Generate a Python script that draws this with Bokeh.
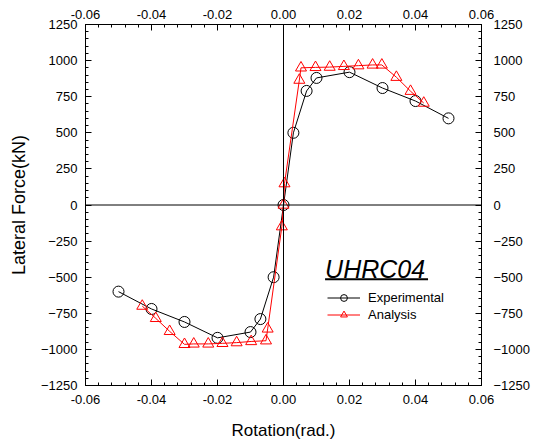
from bokeh.plotting import figure
from bokeh.models import (LinearAxis, FixedTicker, NumeralTickFormatter, Span, Legend,
                          LegendItem, Label, BoxAnnotation, Range1d)
from bokeh.embed import file_html
from bokeh.resources import INLINE

# ---- data ----
exp_x = [-0.05, -0.04, -0.03, -0.02, -0.01, -0.007, -0.003, 0.0, 0.003, 0.007, 0.01, 0.02, 0.03, 0.04, 0.05]
exp_y = [-600, -720, -810, -920, -880, -790, -500, 0, 500, 790, 880, 920, 810, 720, 600]

ana_x = [-0.0428, -0.0387, -0.0345, -0.030, -0.0272, -0.0228, -0.0185, -0.0142, -0.0098, -0.0053,
         -0.0048, -0.0005, 0.0, 0.0003, 0.0048, 0.0053, 0.0097, 0.014, 0.0183, 0.0227, 0.027,
         0.0298, 0.0342, 0.0385, 0.0425]
ana_y = [-700, -785, -875, -965, -962, -962, -958, -953, -945, -940, -858, -150, 0, 148, 865,
         950, 953, 955, 960, 965, 970, 970, 885, 788, 706]

x_ticks = [-0.06, -0.04, -0.02, 0.0, 0.02, 0.04, 0.06]
x_minor = [round(-0.06 + 0.004 * i, 3) for i in range(31)]
y_ticks = [-1250, -1000, -750, -500, -250, 0, 250, 500, 750, 1000, 1250]
y_minor = [-1250 + 50 * i for i in range(51)]

series_names = ["Experimental", "Analysis"]
specimen = "UHRC04"

FONT = "Liberation Sans"

p = figure(width=533, height=447, output_backend="svg", toolbar_location=None,
           x_range=Range1d(-0.06, 0.06), y_range=Range1d(-1250, 1250),
           min_border_left=85, min_border_right=47, min_border_top=24, min_border_bottom=62)
p.xgrid.visible = False
p.ygrid.visible = False
p.outline_line_color = "black"
p.outline_line_width = 1
p.background_fill_color = "white"
p.border_fill_color = "white"

bottom_axis = p.below[0]
left_axis = p.left[0]
bottom_axis.axis_label = "Rotation(rad.)"
left_axis.axis_label = "Lateral Force(kN)"

top_axis = LinearAxis()
right_axis = LinearAxis()
p.add_layout(top_axis, "above")
p.add_layout(right_axis, "right")

for ax in [bottom_axis, top_axis]:
    ax.ticker = FixedTicker(ticks=x_ticks, minor_ticks=x_minor)
    ax.formatter = NumeralTickFormatter(format="0.00")
for ax in [left_axis, right_axis]:
    ax.ticker = FixedTicker(ticks=y_ticks, minor_ticks=y_minor)

for ax in [bottom_axis, top_axis, left_axis, right_axis]:
    ax.major_tick_in = 6
    ax.major_tick_out = 0
    ax.minor_tick_in = 3
    ax.minor_tick_out = 0
    ax.axis_line_color = "black"
    ax.major_tick_line_color = "black"
    ax.minor_tick_line_color = "black"
    ax.major_label_text_font = FONT
    ax.major_label_text_font_size = "13px"
    ax.major_label_text_color = "black"
    ax.axis_label_text_font = FONT
    ax.axis_label_text_font_style = "normal"
    ax.axis_label_text_color = "black"

bottom_axis.axis_label_text_font_size = "17px"
left_axis.axis_label_text_font_size = "18px"
bottom_axis.major_label_standoff = 9
bottom_axis.axis_label_standoff = 14
top_axis.major_label_standoff = 6
left_axis.major_label_standoff = 8
left_axis.axis_label_standoff = 9
right_axis.major_label_standoff = 12

# crosshair at origin
p.add_layout(Span(location=0, dimension="height", line_color="black", line_width=1))
p.add_layout(Span(location=0, dimension="width", line_color="black", line_width=1))

# series
l1 = p.line(exp_x, exp_y, line_color="black", line_width=1)
s1 = p.scatter(exp_x, exp_y, marker="circle", size=11, line_color="black", fill_color=None, line_width=1)
l2 = p.line(ana_x, ana_y, line_color="red", line_width=1)
s2 = p.scatter(ana_x, ana_y, marker="triangle", size=11, line_color="red", fill_color=None, line_width=1)

legend = Legend(items=[LegendItem(label=series_names[0], renderers=[l1, s1]),
                       LegendItem(label=series_names[1], renderers=[l2, s2])],
                location=(242, 62), orientation="vertical",
                glyph_width=33, glyph_height=17, label_height=17, label_standoff=8,
                spacing=0, padding=0, margin=0,
                border_line_alpha=0, background_fill_alpha=0,
                label_text_font=FONT, label_text_font_size="13px", label_text_color="black")
p.add_layout(legend, "center")

p.add_layout(Label(x=0.0126, y=-440, text=specimen, text_font=FONT, text_font_size="25px",
                   text_font_style="italic", text_color="black", text_baseline="alphabetic"))
p.add_layout(BoxAnnotation(left=0.0126, right=0.0438, top=-507, bottom=-521,
                           fill_color="black", fill_alpha=1, line_alpha=0))

open("out.html", "w").write(file_html(p, INLINE))
